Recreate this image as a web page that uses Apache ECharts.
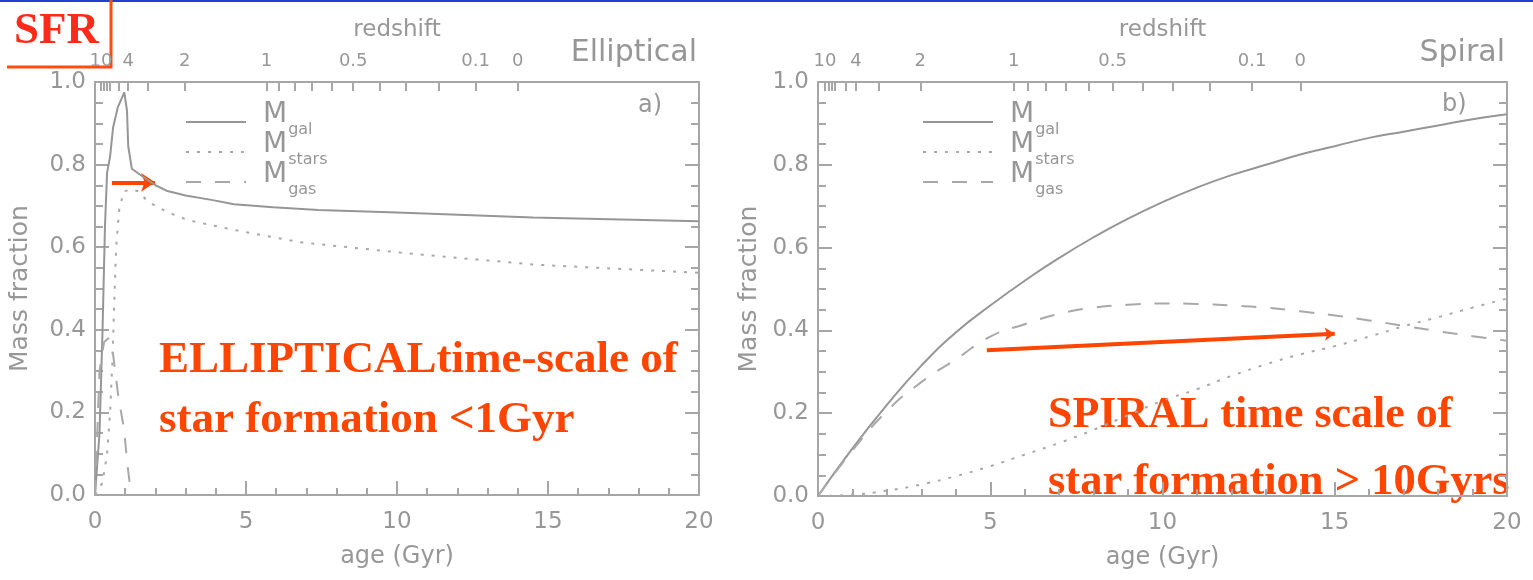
<!DOCTYPE html>
<html>
<head>
<meta charset="utf-8">
<title>Mass fraction vs age</title>
<script src="https://cdn.jsdelivr.net/npm/echarts@6/dist/echarts.min.js"></script>
<style>
html, body { margin: 0; padding: 0; background: #fff; }
#main { width: 1533px; height: 580px; }
</style>
</head>
<body>
<div id="main"></div>
<script>
// --- Elliptical (panel a) ---
var ellGalAge = [0, 0.15, 0.25, 0.33, 0.4, 0.5, 0.6, 0.76, 0.97, 1.06, 1.1, 1.22, 1.6, 2, 2.4, 3, 3.9, 4.6, 5.9, 7.4, 10, 14.5, 20];
var ellGal = [0, 0.15, 0.4, 0.65, 0.78, 0.82, 0.89, 0.94, 0.975, 0.93, 0.845, 0.79, 0.77, 0.75, 0.736, 0.725, 0.714, 0.704, 0.697, 0.69, 0.684, 0.672, 0.663];
var ellStarsAge = [0, 0.25, 0.4, 0.5, 0.58, 0.63, 0.7, 0.8, 0.95, 1.2, 1.45, 1.75, 2.4, 3.1, 4.6, 6.8, 10.1, 14.5, 20];
var ellStars = [0, 0.03, 0.1, 0.2, 0.33, 0.45, 0.6, 0.69, 0.735, 0.74, 0.735, 0.71, 0.685, 0.665, 0.642, 0.612, 0.587, 0.558, 0.538];
var ellGasAge = [0, 0.15, 0.3, 0.45, 0.6, 0.77, 0.96, 1.08, 1.18, 1.3];
var ellGas = [0, 0.3, 0.37, 0.38, 0.34, 0.24, 0.16, 0.07, 0.01, 0];
var ellArrow = [[0.56, 0.757], [1.99, 0.757]];

// --- Spiral (panel b) ---
var spiAge = [0, 1, 2, 3, 4, 5, 6, 7, 8, 9, 10, 11, 12, 13, 14, 15, 16, 17, 18, 19, 20];
var spiGal = [0, 0.115, 0.22, 0.315, 0.395, 0.46, 0.52, 0.575, 0.625, 0.67, 0.71, 0.745, 0.775, 0.8, 0.825, 0.845, 0.865, 0.88, 0.895, 0.91, 0.922];
var spiStars = [0, 0.003, 0.013, 0.028, 0.048, 0.072, 0.1, 0.128, 0.16, 0.195, 0.23, 0.258, 0.29, 0.318, 0.342, 0.362, 0.385, 0.41, 0.432, 0.455, 0.477];
var spiGas = [0, 0.11, 0.205, 0.275, 0.33, 0.385, 0.415, 0.44, 0.455, 0.462, 0.465, 0.464, 0.46, 0.455, 0.446, 0.436, 0.424, 0.411, 0.398, 0.386, 0.375];
var spiArrow = [[4.9, 0.352], [15, 0.392]];

// --- redshift axis (top): age of each redshift tick ---
var zTickAges = [0.2, 0.3, 0.4, 0.5, 0.8, 1.1, 1.75, 2.97, 5.68, 6.1, 6.62, 7.18, 7.85, 8.55, 9.42, 10.3, 11.38, 12.6, 14.0];
var zLabelAges = [0.2, 1.1, 2.97, 5.68, 8.55, 12.6, 14.0];
var zLabels = ['10', '4', '2', '1', '0.5', '0.1', '0'];

var axisColor = '#a6a6a6';
var textColor = '#979797';
var font = 'DejaVu Sans';
var red = '#ff4500';

function zip(xs, ys) {
  return xs.map(function (x, i) { return [x, ys[i]]; });
}

function bottomAxis(g) {
  return {
    type: 'value', gridIndex: g, position: 'bottom', min: 0, max: 20, interval: 5,
    name: 'age (Gyr)', nameLocation: 'middle', nameGap: 50,
    nameTextStyle: { color: textColor, fontSize: 24, fontFamily: font },
    axisLine: { show: true, onZero: false, lineStyle: { color: axisColor, width: 2 } },
    axisTick: { show: true, inside: true, length: 14, lineStyle: { color: axisColor, width: 2 } },
    minorTick: { show: true, splitNumber: 5, length: 7, lineStyle: { color: axisColor, width: 2 } },
    axisLabel: { color: textColor, fontSize: 23, fontFamily: font, margin: 16 },
    splitLine: { show: false }, minorSplitLine: { show: false }
  };
}

function topAxis(g) {
  return {
    type: 'value', gridIndex: g, position: 'top', min: 0, max: 20,
    name: 'redshift', nameLocation: 'middle', nameGap: 40,
    nameTextStyle: { color: textColor, fontSize: 23, fontFamily: font },
    axisLine: { show: true, onZero: false, lineStyle: { color: axisColor, width: 2 } },
    axisTick: { show: true, inside: true, length: 9, customValues: zTickAges, lineStyle: { color: axisColor, width: 2 } },
    axisLabel: {
      show: true, customValues: zLabelAges, color: textColor, fontSize: 18, fontFamily: font, margin: 12,
      formatter: function (v) {
        var i = zLabelAges.indexOf(v);
        return i >= 0 ? zLabels[i] : '';
      }
    },
    splitLine: { show: false }
  };
}

function leftAxis(g, gap) {
  return {
    type: 'value', gridIndex: g, position: 'left', min: 0, max: 1, interval: 0.2,
    name: 'Mass fraction', nameLocation: 'middle', nameGap: gap,
    nameTextStyle: { color: textColor, fontSize: 25, fontFamily: font },
    axisLine: { show: true, onZero: false, lineStyle: { color: axisColor, width: 2 } },
    axisTick: { show: true, inside: true, length: 14, lineStyle: { color: axisColor, width: 2 } },
    minorTick: { show: true, splitNumber: 4, length: 8, lineStyle: { color: axisColor, width: 2 } },
    axisLabel: { color: textColor, fontSize: 23, fontFamily: font, margin: 9, formatter: function (v) { return v.toFixed(1); } },
    splitLine: { show: false }, minorSplitLine: { show: false }
  };
}

function rightAxis(g) {
  return {
    type: 'value', gridIndex: g, position: 'right', min: 0, max: 1, interval: 0.2,
    axisLine: { show: true, onZero: false, lineStyle: { color: axisColor, width: 2 } },
    axisTick: { show: true, inside: true, length: 14, lineStyle: { color: axisColor, width: 2 } },
    minorTick: { show: true, splitNumber: 4, length: 8, lineStyle: { color: axisColor, width: 2 } },
    axisLabel: { show: false },
    splitLine: { show: false }, minorSplitLine: { show: false }
  };
}

function curve(name, data, xi, type, smooth) {
  return {
    name: name, type: 'line', xAxisIndex: xi, yAxisIndex: xi, data: data,
    symbol: 'none', showSymbol: false, smooth: smooth, silent: true,
    lineStyle: { color: type === 'solid' ? '#969696' : '#a8a8a8', width: 2, type: type },
    itemStyle: { color: '#a0a0a0' }
  };
}

function arrow(coords, xi, size) {
  return {
    type: 'lines', coordinateSystem: 'cartesian2d', xAxisIndex: xi, yAxisIndex: xi, silent: true,
    symbol: ['none', 'arrow'], symbolSize: size,
    lineStyle: { color: red, width: 4, opacity: 1, curveness: 0 },
    data: [{ coords: coords }]
  };
}

var dotted = [3, 8];
var dashed = [15, 14];

function legendBox(left, w) {
  return {
    data: ['Mgal', 'Mstars', 'Mgas'], orient: 'vertical', left: left, top: 101, padding: 0,
    itemWidth: w, itemHeight: 14, itemGap: -7, selectedMode: false,
    itemStyle: { opacity: 0 },
    formatter: function (name) { return '{m|M}{s|' + name.slice(1) + '}'; },
    textStyle: {
      color: textColor, padding: [0, 0, 14, 0],
      rich: {
        m: { fontSize: 28, fontFamily: font, color: textColor, verticalAlign: 'top', lineHeight: 28, padding: [0, 0, 0, 12] },
        s: { fontSize: 16, fontFamily: font, color: textColor, verticalAlign: 'top', lineHeight: 16, padding: [21, 0, 0, 1] }
      }
    }
  };
}

var chart = echarts.init(document.getElementById('main'));
chart.setOption({
  animation: false,
  backgroundColor: '#fff',
  grid: [
    { left: 95, right: 834, top: 82, bottom: 85, outerBoundsMode: 'none' },
    { left: 818, right: 26, top: 82, bottom: 84, outerBoundsMode: 'none' }
  ],
  xAxis: [bottomAxis(0), bottomAxis(1), topAxis(0), topAxis(1)],
  yAxis: [leftAxis(0, 62), leftAxis(1, 56), rightAxis(0), rightAxis(1)],
  legend: [legendBox(185, 60), legendBox(922, 70)],
  series: [
    curve('Mgal', zip(ellGalAge, ellGal), 0, 'solid', false),
    curve('Mstars', zip(ellStarsAge, ellStars), 0, dotted, false),
    curve('Mgas', zip(ellGasAge, ellGas), 0, dashed, false),
    arrow(ellArrow, 0, 14),
    curve('Mgal', zip(spiAge, spiGal), 1, 'solid', true),
    curve('Mstars', zip(spiAge, spiStars), 1, dotted, true),
    curve('Mgas', zip(spiAge, spiGas), 1, dashed, true),
    arrow(spiArrow, 1, 10)
  ],
  graphic: [
    { type: 'line', silent: true, shape: { x1: 0, y1: 1, x2: 1533, y2: 1 }, style: { stroke: '#1f3fcf', lineWidth: 2 } },
    { type: 'polyline', silent: true, shape: { points: [[7, 67], [111, 67], [111, 0]] }, style: { stroke: '#ff4a10', lineWidth: 3, fill: null } },
    { type: 'text', silent: true, x: 14, y: 31, style: { text: 'SFR', font: 'bold 45px "Liberation Serif"', fill: '#ff2a1a', textVerticalAlign: 'middle', verticalAlign: 'middle' } },
    { type: 'text', silent: true, x: 697, y: 53, style: { text: 'Elliptical', font: '30px "DejaVu Sans"', fill: textColor, textAlign: 'right', align: 'right', textVerticalAlign: 'middle', verticalAlign: 'middle' } },
    { type: 'text', silent: true, x: 1505, y: 53, style: { text: 'Spiral', font: '30px "DejaVu Sans"', fill: textColor, textAlign: 'right', align: 'right', textVerticalAlign: 'middle', verticalAlign: 'middle' } },
    { type: 'text', silent: true, x: 638, y: 106, style: { text: 'a)', font: '24px "DejaVu Sans"', fill: textColor, textVerticalAlign: 'middle', verticalAlign: 'middle' } },
    { type: 'text', silent: true, x: 1442, y: 105, style: { text: 'b)', font: '24px "DejaVu Sans"', fill: textColor, textVerticalAlign: 'middle', verticalAlign: 'middle' } },
    { type: 'text', silent: true, x: 159, y: 360, style: { text: 'ELLIPTICALtime-scale of', font: 'bold 45px "Liberation Serif"', fill: red, textVerticalAlign: 'middle', verticalAlign: 'middle' } },
    { type: 'text', silent: true, x: 159, y: 420, style: { text: 'star formation <1Gyr', font: 'bold 45px "Liberation Serif"', fill: red, textVerticalAlign: 'middle', verticalAlign: 'middle' } },
    { type: 'text', silent: true, x: 1048, y: 416, style: { text: 'SPIRAL time scale of', font: 'bold 44px "Liberation Serif"', fill: red, textVerticalAlign: 'middle', verticalAlign: 'middle' } },
    { type: 'text', silent: true, x: 1048, y: 482, style: { text: 'star formation > 10Gyrs', font: 'bold 44.5px "Liberation Serif"', fill: red, textVerticalAlign: 'middle', verticalAlign: 'middle' } }
  ]
});
</script>
</body>
</html>
